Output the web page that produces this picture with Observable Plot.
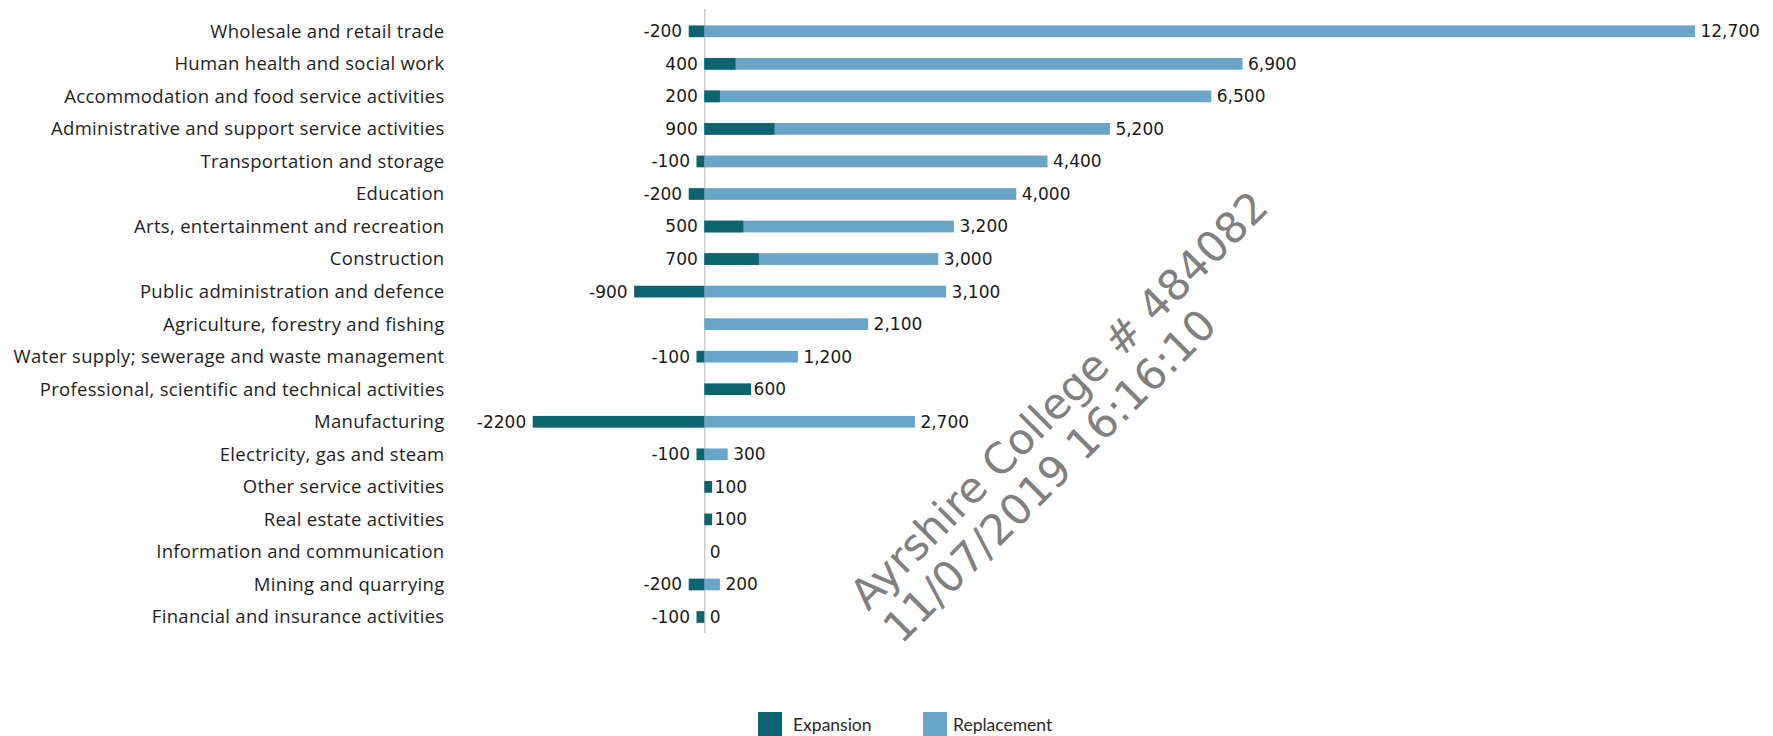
<!DOCTYPE html>
<html>
<head>
<meta charset="utf-8">
<script src="https://cdn.jsdelivr.net/npm/d3@7"></script>
<script src="https://cdn.jsdelivr.net/npm/@observablehq/plot@0.6"></script>
<style>
  html, body { margin: 0; padding: 0; background: #fff; }
  #chart { position: relative; width: 1773px; }
  #legend { position: relative; height: 36px; width: 1773px; font-family: Lato, "Open Sans", sans-serif; font-size: 17.5px; color: #2a2a2a; }
  .item { position: absolute; top: 12px; display: flex; align-items: center; height: 24px; }
  .sw { width: 24px; height: 24px; display: inline-block; }
</style>
</head>
<body>
<div id="chart"></div>
<div id="legend"></div>
<script>
const categories = [
  "Wholesale and retail trade",
  "Human health and social work",
  "Accommodation and food service activities",
  "Administrative and support service activities",
  "Transportation and storage",
  "Education",
  "Arts, entertainment and recreation",
  "Construction",
  "Public administration and defence",
  "Agriculture, forestry and fishing",
  "Water supply; sewerage and waste management",
  "Professional, scientific and technical activities",
  "Manufacturing",
  "Electricity, gas and steam",
  "Other service activities",
  "Real estate activities",
  "Information and communication",
  "Mining and quarrying",
  "Financial and insurance activities"
];
const expansion = [-200, 400, 200, 900, -100, -200, 500, 700, -900, null, -100, 600, -2200, -100, 100, 100, null, -200, -100];
const replacement = [12700, 6900, 6500, 5200, 4400, 4000, 3200, 3000, 3100, 2100, 1200, null, 2700, 300, null, null, 0, 200, 0];
const seriesNames = ["Expansion", "Replacement"];
const seriesColors = ["#0b6470", "#68a5c9"];
const watermarkLines = ["Ayrshire College # 484082", "11/07/2019 16:16:10"];

const rows = categories.map((c, i) => ({category: c, exp: expansion[i], rep: replacement[i]}));
const expRows = rows.filter(d => d.exp != null);
const repRows = rows.filter(d => d.rep != null);
const expWithRep = expRows.filter(d => d.rep != null);
const expAlone = expRows.filter(d => d.rep == null);
const fmtRep = d3.format(",");

const plot = Plot.plot({
  width: 1773,
  height: 700,
  marginTop: 9,
  marginBottom: 67,
  marginLeft: 447,
  marginRight: 0,
  style: {background: "#fff", overflow: "visible"},
  x: {domain: [-9000, 13000], range: [2.3, 1718.3], axis: null},
  y: {domain: categories, range: [4.6, 643.7], padding: 0.64, round: false, label: null},
  marks: [
    Plot.ruleX([0], {stroke: "#c9cdd1", strokeWidth: 1.5}),
    Plot.barX(repRows, {y: "category", x: "rep", fill: seriesColors[1]}),
    Plot.barX(expRows, {y: "category", x: "exp", fill: seriesColors[0]}),
    Plot.text(repRows, {y: "category", x: "rep", text: d => fmtRep(d.rep), textAnchor: "start", dx: 5,
      fontFamily: "DejaVu Sans", fontSize: 17, fill: "#1a1a1a"}),
    Plot.text(expWithRep, {y: "category", x: d => Math.min(0, d.exp), text: d => String(d.exp), textAnchor: "end", dx: -7,
      fontFamily: "DejaVu Sans", fontSize: 17, fill: "#1a1a1a"}),
    Plot.text(expAlone, {y: "category", x: "exp", text: d => String(d.exp), textAnchor: "start", dx: 2,
      fontFamily: "DejaVu Sans", fontSize: 17, fill: "#1a1a1a"}),
    Plot.axisY({anchor: "left", tickSize: 0, tickPadding: 3, label: null,
      fontFamily: "Open Sans", fontSize: 18.5, fill: "#1e1e1e"})
  ]
});

// label letter spacing to match the reference's wider setting
d3.select(plot).selectAll("g[aria-label='y-axis tick label'] text").style("letter-spacing", "0.3px");

// watermark overlay
const svg = d3.select(plot);
const wm = svg.append("g")
  .attr("transform", "translate(868,612) rotate(-45)")
  .attr("font-family", "DejaVu Sans")
  .attr("font-size", 42.5)
  .attr("text-anchor", "start")
  .attr("fill", "#808080");
watermarkLines.forEach((t, i) => {
  wm.append("text").attr("x", 0).attr("y", i * 47).attr("text-anchor", "start").text(t);
});

document.getElementById("chart").appendChild(plot);

const legend = document.getElementById("legend");
const lefts = [758, 923];
const gaps = [11, 6];
seriesNames.forEach((name, i) => {
  const it = document.createElement("div");
  it.className = "item";
  it.style.left = lefts[i] + "px";
  const sw = document.createElement("span");
  sw.className = "sw";
  sw.style.background = seriesColors[i];
  const lab = document.createElement("span");
  lab.textContent = name;
  lab.style.marginLeft = gaps[i] + "px";
  it.appendChild(sw);
  it.appendChild(lab);
  legend.appendChild(it);
});
</script>
</body>
</html>
